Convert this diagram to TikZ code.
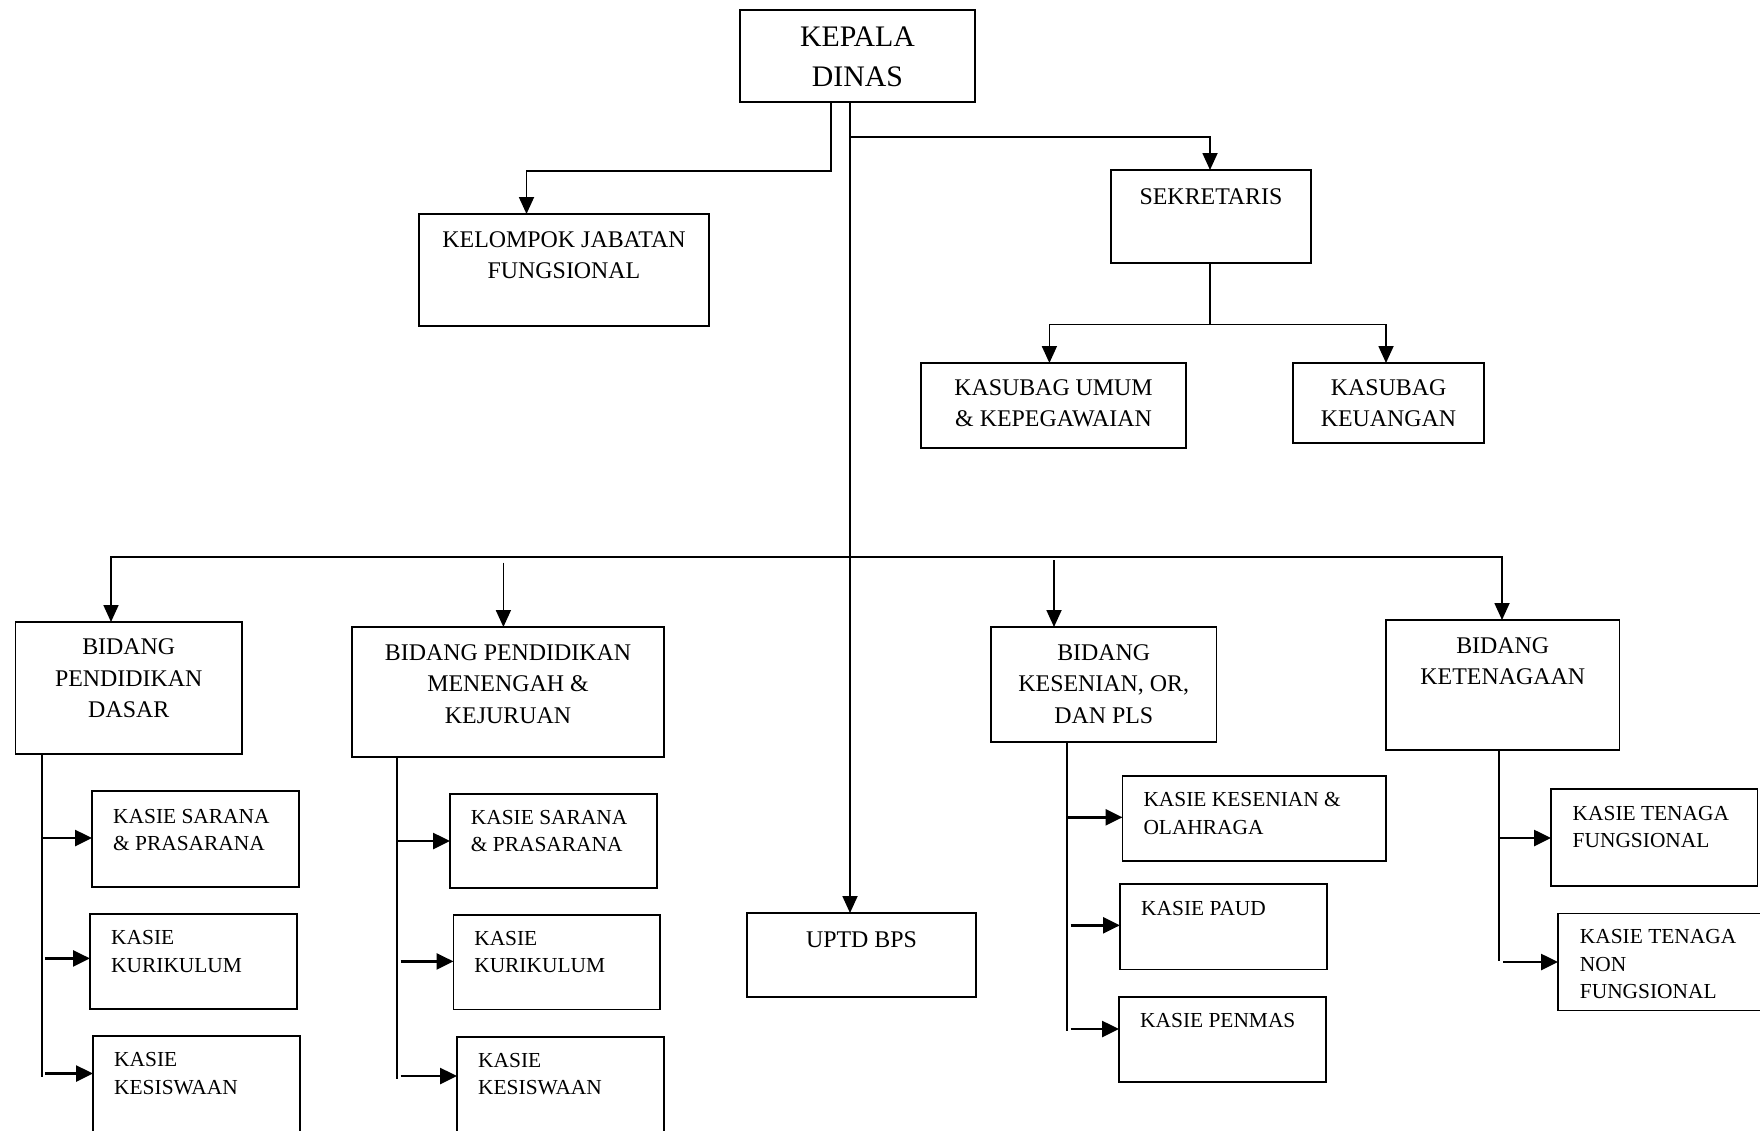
\documentclass[tikz,border=0pt]{standalone}
\usepackage{fontspec}
\setmainfont{Liberation Serif}
\usetikzlibrary{arrows.meta,calc}
% stacked lines of a label, baseline on the first line
\newcommand\orgtxt[2]{\begin{tabular}[t]{@{}#1@{}}#2\end{tabular}}
\begin{document}
\begin{tikzpicture}[x=1pt,y=-1pt,
  box/.style={draw, line width=1.9pt, inner sep=0pt, outer sep=0pt, anchor=north west},
  head/.style={font=\fontsize{29.8}{39.3}\selectfont, anchor=base, inner sep=0pt},
  big/.style={font=\fontsize{23.9}{31.5}\selectfont, anchor=base, inner sep=0pt},
  small/.style={font=\fontsize{21.4}{27.7}\selectfont, anchor=base west, inner sep=0pt},
  link/.style={line width=1.8pt},
  arr/.style={link, -{Triangle[length=17pt,width=15pt]}},
  harr/.style={line width=2.6pt, -{Triangle[length=17pt,width=16pt]}}]
\useasboundingbox (0,0) rectangle (1760,1130);
\fill[white] (0,0) rectangle (1760,1130);
\clip (0,0) rectangle (1760,1130);

% ---- top level
\node[box, minimum width=235pt, minimum height=92pt] (kepala) at (740,10) {};
\node[head] (kepalaT) at ($(kepala.north)+(0,36.7)$) {\orgtxt{c}{KEPALA\\DINAS}};

\node[box, minimum width=290pt, minimum height=112pt] (kelompok) at (419,214) {};
\node[big] (kelompokT) at ($(kelompok.north)+(0,33)$) {\orgtxt{c}{KELOMPOK JABATAN\\FUNGSIONAL}};

\node[box, minimum width=200pt, minimum height=93pt] (sekretaris) at (1111,170) {};
\node[big] (sekretarisT) at ($(sekretaris.north)+(0,34)$) {SEKRETARIS};

\node[box, minimum width=265pt, minimum height=85pt] (kasubagU) at (921,363) {};
\node[big] (kasubagUT) at ($(kasubagU.north)+(0,32.3)$) {\orgtxt{c}{KASUBAG UMUM\\\& KEPEGAWAIAN}};

\node[box, minimum width=191pt, minimum height=80pt] (kasubagK) at (1293,363) {};
\node[big] (kasubagKT) at ($(kasubagK.north)+(0,32)$) {\orgtxt{c}{KASUBAG\\KEUANGAN}};

% ---- bidang level
\node[box, minimum width=226.5pt, minimum height=132pt] (bidpd) at (15.5,622) {};
\node[big] (bidpdT) at ($(bidpd.north)+(0,32.7)$) {\orgtxt{c}{BIDANG\\PENDIDIKAN\\DASAR}};

\node[box, minimum width=312pt, minimum height=130pt] (bidpmk) at (352,627) {};
\node[big] (bidpmkT) at ($(bidpmk.north)+(0,33)$) {\orgtxt{c}{BIDANG PENDIDIKAN\\MENENGAH \&\\KEJURUAN}};

\node[box, minimum width=229pt, minimum height=84pt] (uptd) at (747,913) {};
\node[big] (uptdT) at ($(uptd.north)+(0,34.3)$) {UPTD BPS};

\node[box, minimum width=225.5pt, minimum height=115pt] (bidkor) at (991,627) {};
\node[big] (bidkorT) at ($(bidkor.north)+(0,33)$) {\orgtxt{c}{BIDANG\\KESENIAN, OR,\\DAN PLS}};

\node[box, minimum width=233.5pt, minimum height=130pt] (bidket) at (1386,620) {};
\node[big] (bidketT) at ($(bidket.north)+(0,33.3)$) {\orgtxt{c}{BIDANG\\KETENAGAAN}};

% ---- kasie level
\node[box, minimum width=207pt, minimum height=96pt] (ks1) at (92,791) {};
\node[small] (ks1T) at ($(ks1.north west)+(21,32)$) {\orgtxt{l}{KASIE SARANA\\\& PRASARANA}};
\node[box, minimum width=207pt, minimum height=95pt] (kk1) at (90,914) {};
\node[small] (kk1T) at ($(kk1.north west)+(21,30.4)$) {\orgtxt{l}{KASIE\\KURIKULUM}};
\node[box, minimum width=207pt, minimum height=104pt] (kw1) at (93,1036) {};
\node[small] (kw1T) at ($(kw1.north west)+(21,30.7)$) {\orgtxt{l}{KASIE\\KESISWAAN}};

\node[box, minimum width=207pt, minimum height=94pt] (ks2) at (450,794) {};
\node[small] (ks2T) at ($(ks2.north west)+(20.7,30)$) {\orgtxt{l}{KASIE SARANA\\\& PRASARANA}};
\node[box, minimum width=206.5pt, minimum height=94.5pt] (kk2) at (453.5,915) {};
\node[small] (kk2T) at ($(kk2.north west)+(20.6,30)$) {\orgtxt{l}{KASIE\\KURIKULUM}};
\node[box, minimum width=207pt, minimum height=104pt] (kw2) at (457,1037) {};
\node[small] (kw2T) at ($(kw2.north west)+(21,30)$) {\orgtxt{l}{KASIE\\KESISWAAN}};

\node[box, minimum width=263.5pt, minimum height=85pt] (kkes) at (1122.5,776) {};
\node[small] (kkesT) at ($(kkes.north west)+(20.8,30.7)$) {\orgtxt{l}{KASIE KESENIAN \&\\OLAHRAGA}};
\node[box, minimum width=207pt, minimum height=85.5pt] (kpaud) at (1120,884) {};
\node[small] (kpaudT) at ($(kpaud.north west)+(21,31.4)$) {KASIE PAUD};
\node[box, minimum width=207pt, minimum height=85pt] (kpen) at (1119,997) {};
\node[small] (kpenT) at ($(kpen.north west)+(21,30.6)$) {KASIE PENMAS};

\node[box, minimum width=206.5pt, minimum height=97pt] (ktf) at (1551,789) {};
\node[small] (ktfT) at ($(ktf.north west)+(21.5,31)$) {\orgtxt{l}{KASIE TENAGA\\FUNGSIONAL}};
\node[box, minimum width=203pt, minimum height=97pt] (ktnf) at (1558,913.5) {};
\node[small] (ktnfT) at ($(ktnf.north west)+(21.7,30)$) {\orgtxt{l}{KASIE TENAGA\\NON\\FUNGSIONAL}};

% ---- connectors from the head
\coordinate (spine) at ($(kepala.south west)+(110,0)$);
\coordinate (kelIn) at ($(kelompok.north west)+(107.5,0)$);
\draw[arr] ($(kepala.south west)+(91,0)$) -- ++(0,69) -| (kelIn);
\draw[arr] (spine) -- ($(uptd.north west)+(103,0)$);
\draw[arr] ($(spine)+(0,35)$) -| ($(sekretaris.north west)+(99,0)$);

% secretary to its sub-sections
\coordinate (sekJ) at ($(sekretaris.south west)+(99,61.5)$);
\draw[link] ($(sekretaris.south west)+(99,0)$) -- (sekJ);
\draw[arr] (sekJ) -| ($(kasubagU.north west)+(128.4,0)$);
\draw[arr] (sekJ) -| ($(kasubagK.north west)+(93,0)$);

% main bus to the bidang boxes
\coordinate (bus) at ($(spine)+(0,455)$);
\draw[arr] (bus) -| ($(bidpd.north west)+(95.5,0)$);
\draw[arr] (bus) -| ($(bidket.north west)+(116,0)$);
\draw[arr] ($(bidpmk.north west)+(151.4,-64.4)$) -- ($(bidpmk.north west)+(151.4,0)$);
\draw[arr] ($(bidkor.north west)+(63,-67)$) -- ($(bidkor.north west)+(63,0)$);

% stems below each bidang
\coordinate (pdS) at ($(bidpd.south west)+(26.5,0)$);
\coordinate (pmkS) at ($(bidpmk.south west)+(45,0)$);
\coordinate (korS) at ($(bidkor.south west)+(76,0)$);
\coordinate (ketS) at ($(bidket.south west)+(113,0)$);
\draw[link] (pdS) -- ++(0,323);
\draw[link] (pmkS) -- ++(0,322);
\draw[link] (korS) -- ++(0,289);
\draw[link] (ketS) -- ++(0,211.4);

% entry points of the kasie boxes
\coordinate (ks1In) at ($(ks1.north west)+(0,47)$);
\coordinate (kk1In) at ($(kk1.north west)+(0,44.4)$);
\coordinate (kw1In) at ($(kw1.north west)+(0,37.5)$);
\coordinate (ks2In) at ($(ks2.north west)+(0,47)$);
\coordinate (kk2In) at ($(kk2.north west)+(0,46.4)$);
\coordinate (kw2In) at ($(kw2.north west)+(0,39)$);
\coordinate (kkesIn) at ($(kkes.north west)+(0,41.3)$);
\coordinate (kpaudIn) at ($(kpaud.north west)+(0,41.3)$);
\coordinate (kpenIn) at ($(kpen.north west)+(0,32)$);
\coordinate (ktfIn) at ($(ktf.north west)+(0,49)$);
\coordinate (ktnfIn) at ($(ktnf.north west)+(0,48.5)$);

\draw[harr] (pdS |- ks1In) -- (ks1In);
\draw[harr] ($(pdS |- kk1In)+(2.8,0)$) -- (kk1In);
\draw[harr] ($(pdS |- kw1In)+(2.8,0)$) -- (kw1In);
\draw[harr] (pmkS |- ks2In) -- (ks2In);
\draw[harr] ($(pmkS |- kk2In)+(3.7,0)$) -- (kk2In);
\draw[harr] ($(pmkS |- kw2In)+(3.7,0)$) -- (kw2In);
\draw[harr] (korS |- kkesIn) -- (kkesIn);
\draw[harr] ($(korS |- kpaudIn)+(3.7,0)$) -- (kpaudIn);
\draw[harr] ($(korS |- kpenIn)+(3.7,0)$) -- (kpenIn);
\draw[harr] (ketS |- ktfIn) -- (ktfIn);
\draw[harr] ($(ketS |- ktnfIn)+(4,0)$) -- (ktnfIn);
\end{tikzpicture}
\end{document}
